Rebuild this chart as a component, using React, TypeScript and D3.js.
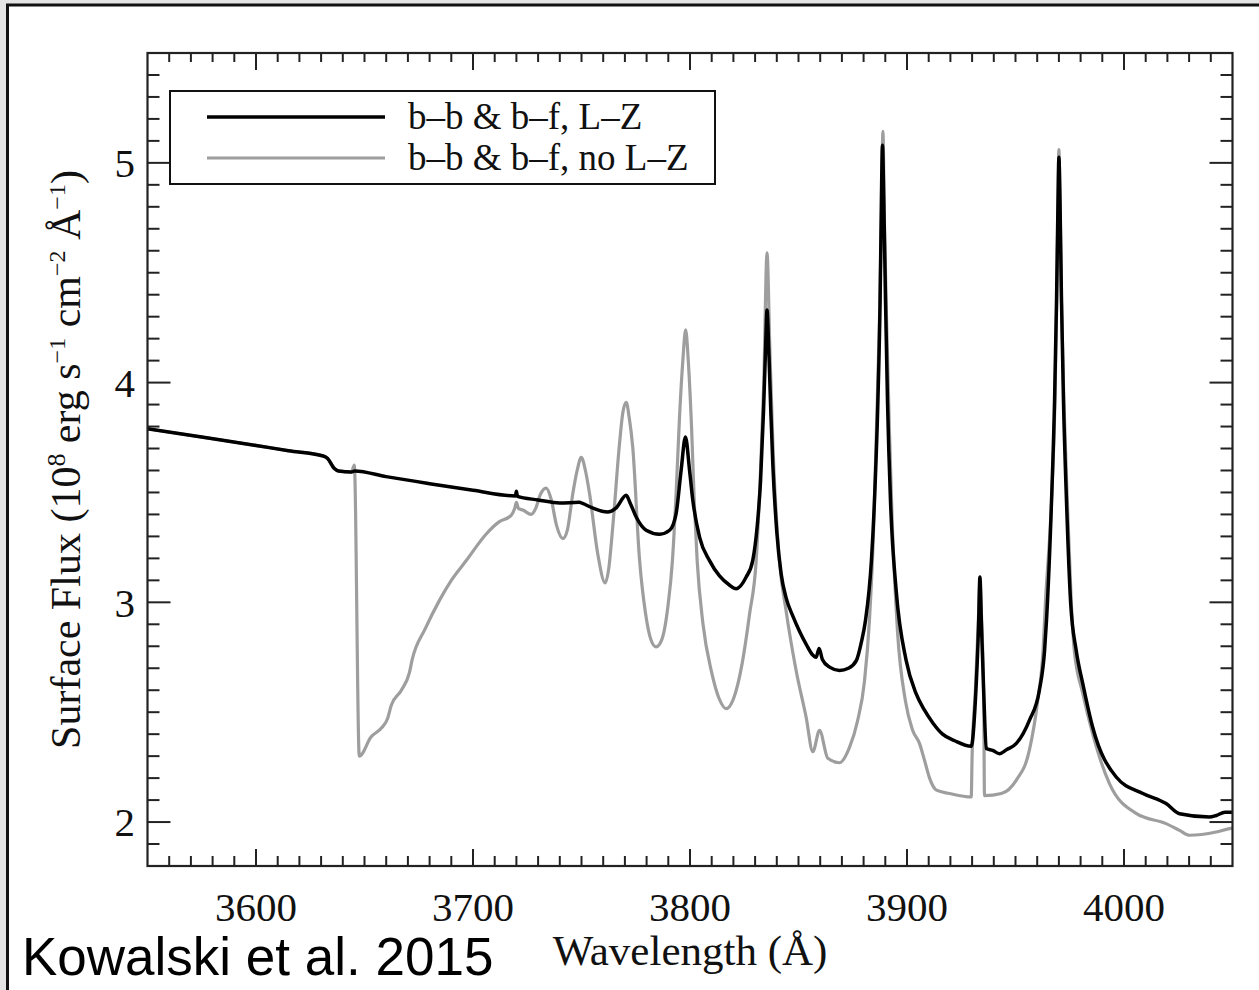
import React from "react";
import * as d3 from "d3";

// ---- data (wavelength Å, surface flux 1e8 erg s^-1 cm^-2 Å^-1) ----
const lzSeries: [number, number][] = [
  [3550, 3.79], [3575, 3.752], [3600, 3.714], [3615, 3.69], [3631, 3.666], [3633, 3.655],
  [3636, 3.61], [3638, 3.598], [3644, 3.593], [3645.5, 3.598], [3660, 3.572], [3680, 3.54],
  [3700, 3.51], [3719.5, 3.484], [3720, 3.505], [3720.5, 3.482], [3730, 3.466], [3740, 3.452],
  [3749, 3.455], [3750.5, 3.45], [3755, 3.43], [3762, 3.411], [3766, 3.43], [3770.6, 3.487],
  [3772.5, 3.45], [3775.2, 3.388], [3779.8, 3.328], [3786, 3.31], [3790.6, 3.328], [3793.6, 3.404],
  [3795.9, 3.6], [3797.9, 3.752], [3799.8, 3.6], [3801.3, 3.464], [3804.4, 3.297], [3809, 3.19],
  [3813.6, 3.12], [3818, 3.08], [3821.3, 3.062], [3825.9, 3.115], [3828.9, 3.19], [3831, 3.35],
  [3832.5, 3.55], [3833.9, 3.875], [3834.8, 4.15], [3835.5, 4.33], [3836.3, 4.15], [3837.2, 3.88],
  [3838.2, 3.62], [3840, 3.32], [3842, 3.13], [3844.3, 3.02], [3847.5, 2.935], [3850.4, 2.87],
  [3853.5, 2.81], [3856.6, 2.76], [3858.1, 2.75], [3859.5, 2.79], [3861, 2.74], [3864.3, 2.705],
  [3868.9, 2.69], [3873, 2.7], [3876.7, 2.736], [3879, 2.82], [3880.9, 2.92], [3883.6, 3.19],
  [3885, 3.46], [3886.6, 3.92], [3887.6, 4.37], [3888.2, 4.83], [3888.7, 5.08], [3889.3, 4.83],
  [3890.1, 4.37], [3891, 3.92], [3892.4, 3.46], [3895, 3.055], [3899.6, 2.736], [3904.2, 2.584],
  [3908, 2.51], [3912, 2.45], [3916.4, 2.4], [3922, 2.37], [3929.6, 2.345], [3931.5, 2.55],
  [3933, 2.9], [3933.6, 3.115], [3934.3, 2.9], [3935.5, 2.55], [3936.5, 2.335], [3939.5, 2.326],
  [3942.6, 2.311], [3946, 2.33], [3950.3, 2.357], [3956.4, 2.463], [3961, 2.6], [3963.4, 2.78],
  [3964.3, 2.92], [3966.6, 3.46], [3968, 3.92], [3968.9, 4.37], [3969.6, 4.83], [3970, 5.025],
  [3970.5, 4.83], [3971.2, 4.37], [3972.1, 3.92], [3973.5, 3.46], [3975.4, 3.0], [3978, 2.78],
  [3981, 2.63], [3985.6, 2.43], [3996.4, 2.205], [4008.7, 2.13], [4019.4, 2.084], [4025.6, 2.038],
  [4039.4, 2.023], [4042.5, 2.03], [4046.5, 2.045], [4050, 2.045],
];

const noLzSeries: [number, number][] = [
  [3550, 3.79], [3575, 3.752], [3600, 3.714], [3615, 3.69], [3631, 3.666], [3633, 3.655],
  [3636, 3.61], [3638, 3.598], [3644, 3.593], [3645.3, 3.625], [3647.6, 2.3], [3653, 2.387],
  [3658, 2.43], [3660.6, 2.47], [3662.3, 2.53], [3667, 2.6], [3670.7, 2.68], [3672, 2.74],
  [3678, 2.88], [3684.6, 3.01], [3690, 3.1], [3696.9, 3.19], [3706, 3.31], [3712, 3.366],
  [3717.6, 3.396], [3719.3, 3.43], [3720, 3.455], [3721, 3.426], [3723, 3.42], [3726.8, 3.4],
  [3729, 3.43], [3731, 3.49], [3733.7, 3.52], [3736, 3.47], [3738.5, 3.35], [3741.4, 3.29],
  [3743.5, 3.33], [3746, 3.495], [3748, 3.6], [3749.9, 3.66], [3751.8, 3.6], [3753.7, 3.495],
  [3757.5, 3.22], [3760.9, 3.088], [3762.5, 3.15], [3764.4, 3.343], [3767.5, 3.72], [3769, 3.86],
  [3770.6, 3.91], [3772, 3.84], [3773.6, 3.707], [3776.7, 3.2], [3779.5, 2.95], [3782, 2.83],
  [3784.4, 2.797], [3787, 2.83], [3789.8, 2.98], [3791.9, 3.19], [3793.6, 3.495], [3795.2, 3.85],
  [3796.7, 4.1], [3798, 4.24], [3799.2, 4.1], [3800.7, 3.8], [3802, 3.45], [3803.3, 3.19],
  [3806, 2.9], [3810, 2.68], [3813.5, 2.56], [3816.7, 2.516], [3820, 2.56], [3824, 2.72],
  [3827.5, 2.95], [3830.5, 3.19], [3832.5, 3.6], [3834, 4.0], [3835.5, 4.59], [3836.8, 4.15],
  [3838.3, 3.69], [3841.2, 3.19], [3844.3, 2.96], [3848.9, 2.69], [3853.5, 2.478], [3856.6, 2.32],
  [3859.7, 2.417], [3863.5, 2.29], [3868.9, 2.27], [3873.5, 2.34], [3877.2, 2.46], [3880.4, 2.64],
  [3882.7, 2.92], [3884.6, 3.33], [3885.9, 3.78], [3887.3, 4.28], [3888.2, 4.73], [3888.9, 5.143],
  [3889.6, 4.73], [3890.6, 4.28], [3891.9, 3.78], [3893.3, 3.33], [3895.6, 2.87], [3899.3, 2.55],
  [3902.5, 2.42], [3905.8, 2.357], [3908.1, 2.28], [3910.4, 2.2], [3913.6, 2.145], [3919.6, 2.13],
  [3929.6, 2.114], [3930, 2.3], [3931.5, 2.6], [3933, 2.95], [3933.6, 3.09], [3934.3, 2.95],
  [3935.4, 2.5], [3935.7, 2.12], [3943.5, 2.13], [3950.3, 2.19], [3956.4, 2.327], [3960.2, 2.55],
  [3962.7, 2.78], [3963.8, 3.0], [3966.6, 3.46], [3968.2, 3.92], [3969, 4.37], [3969.6, 4.83],
  [3970, 5.06], [3970.5, 4.83], [3971.2, 4.37], [3972.3, 3.92], [3973.9, 3.46], [3975.7, 3.0],
  [3977.1, 2.78], [3981, 2.585], [3985.6, 2.4], [3993.3, 2.175], [4005.8, 2.038], [4019.4, 1.993],
  [4025.6, 1.962], [4030.2, 1.94], [4042.5, 1.955], [4048.6, 1.97], [4050, 1.972],
];

const xMajorTicks = [3600, 3700, 3800, 3900, 4000];
const yMajorTicks = [2, 3, 4, 5];
const legendLabels = ["b–b & b–f, L–Z", "b–b & b–f, no L–Z"];
const seriesColors = ["#000000", "#9e9e9e"];
const xDomain: [number, number] = [3550, 4050];
const yDomain: [number, number] = [1.8, 5.5];

const SERIF = "Liberation Serif, Times New Roman, serif";
const SANS = "Liberation Sans, Arial, sans-serif";

export default function App() {
  const left = 147.5, right = 1232.5, top = 53, bottom = 866;
  const x = d3.scaleLinear().domain(xDomain).range([left, right]);
  const y = d3.scaleLinear().domain(yDomain).range([bottom, top]);
  const line = d3
    .line<[number, number]>()
    .x((d) => x(d[0]))
    .y((d) => y(d[1]))
    .curve(d3.curveMonotoneX);

  const xMinor = d3.range(3560, 4050, 10).filter((v) => v % 100 !== 0);
  const yMinor = d3
    .range(18, 55, 1)
    .map((v) => v / 10)
    .filter((v) => Math.abs(v - Math.round(v)) > 1e-6 && v > 1.8 && v < 5.5);

  const tickColor = "#222";
  return (
    <svg
      width={1259}
      height={990}
      style={{ position: "absolute", left: 0, top: 0, display: "block" }}
    >
      <rect x={0} y={0} width={1259} height={990} fill="#e4e4e4" />
      <rect x={7.5} y={5} width={1300} height={1100} fill="#ffffff" stroke="#111" strokeWidth={3} />

      <defs>
        <clipPath id="plotClip">
          <rect x={left} y={top} width={right - left} height={bottom - top} />
        </clipPath>
      </defs>

      {/* ticks */}
      <g stroke={tickColor} strokeWidth={2}>
        {xMajorTicks.map((t) => (
          <g key={"xm" + t}>
            <line x1={x(t)} x2={x(t)} y1={bottom} y2={bottom - 17} />
            <line x1={x(t)} x2={x(t)} y1={top} y2={top + 17} />
          </g>
        ))}
        {xMinor.map((t) => (
          <g key={"xn" + t}>
            <line x1={x(t)} x2={x(t)} y1={bottom} y2={bottom - 10} />
            <line x1={x(t)} x2={x(t)} y1={top} y2={top + 9} />
          </g>
        ))}
        {yMajorTicks.map((t) => (
          <g key={"ym" + t}>
            <line x1={left} x2={left + 23} y1={y(t)} y2={y(t)} />
            <line x1={right} x2={right - 23} y1={y(t)} y2={y(t)} />
          </g>
        ))}
        {yMinor.map((t) => (
          <g key={"yn" + t}>
            <line x1={left} x2={left + 12} y1={y(t)} y2={y(t)} />
            <line x1={right} x2={right - 12} y1={y(t)} y2={y(t)} />
          </g>
        ))}
      </g>

      {/* series */}
      <g clipPath="url(#plotClip)" fill="none" strokeLinejoin="round" strokeLinecap="round">
        <path d={line(noLzSeries) || ""} stroke={seriesColors[1]} strokeWidth={3.2} />
        <path d={line(lzSeries) || ""} stroke={seriesColors[0]} strokeWidth={3.5} />
      </g>

      {/* frame */}
      <rect x={left} y={top} width={right - left} height={bottom - top} fill="none" stroke={tickColor} strokeWidth={2.2} />

      {/* tick labels */}
      {xMajorTicks.map((t) => (
        <text key={"xl" + t} x={x(t)} y={921} textAnchor="middle" fontFamily={SERIF} fontSize={41} fill="#111">
          {t}
        </text>
      ))}
      {yMajorTicks.map((t) => (
        <text key={"yl" + t} x={135} y={y(t)} dy="0.35em" textAnchor="end" fontFamily={SERIF} fontSize={41} fill="#111">
          {t}
        </text>
      ))}

      {/* axis titles */}
      <text x={(left + right) / 2} y={965} textAnchor="middle" fontFamily={SERIF} fontSize={43} fill="#111">
        Wavelength (Å)
      </text>
      <text
        transform={`translate(80, ${(top + bottom) / 2}) rotate(-90)`}
        textAnchor="middle"
        fontFamily={SERIF}
        fontSize={42}
        fill="#111"
      >
        <tspan>Surface Flux (10</tspan>
        <tspan dy={-15} fontSize={26}>8</tspan>
        <tspan dy={15}> erg s</tspan>
        <tspan dy={-15} fontSize={24}>−1</tspan>
        <tspan dy={15}> cm</tspan>
        <tspan dy={-15} fontSize={24}>−2</tspan>
        <tspan dy={15}> Å</tspan>
        <tspan dy={-15} fontSize={24}>−1</tspan>
        <tspan dy={15}>)</tspan>
      </text>

      {/* legend */}
      <rect x={170} y={91} width={545} height={93} fill="#fff" stroke="#111" strokeWidth={2} />
      {legendLabels.map((lab, i) => (
        <g key={lab}>
          <line
            x1={207}
            x2={385}
            y1={117 + i * 41}
            y2={117 + i * 41}
            stroke={seriesColors[i]}
            strokeWidth={i === 0 ? 3.5 : 3.2}
          />
          <text x={408} y={129 + i * 41} fontFamily={SERIF} fontSize={37} fill="#111">
            {lab}
          </text>
        </g>
      ))}

      {/* citation */}
      <text x={22} y={975} fontFamily={SANS} fontSize={53} fill="#000">
        Kowalski et al. 2015
      </text>
    </svg>
  );
}
